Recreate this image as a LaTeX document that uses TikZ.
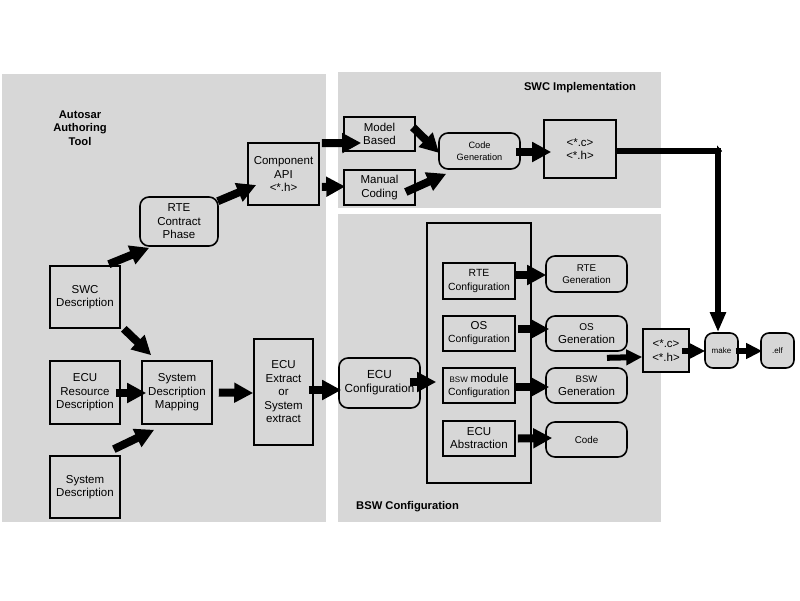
\documentclass[tikz,border=0pt]{standalone}
\usepackage{fontspec}
\setmainfont{Liberation Sans}
\usetikzlibrary{arrows.meta,calc}
\definecolor{panel}{RGB}{215,215,215}
\tikzset{
  panelbg/.style={fill=panel, draw=none},
  box/.style={draw=black, line width=1.6pt, fill=panel, inner sep=0pt, align=center,
    font=\fontsize{11.5}{13.5}\selectfont},
  rbox/.style={box, rounded corners=9pt},
  title/.style={font=\bfseries\fontsize{11.2}{13.7}\selectfont, align=center, inner sep=0pt},
  bigarrow/.style={line width=8pt, -{Triangle[length=19pt,width=19pt]}},
  midarrow/.style={line width=6pt, -{Triangle[length=16pt,width=15pt]}},
}
\begin{document}
\begin{tikzpicture}[x=1pt,y=-1pt]
\useasboundingbox (0,0) rectangle (800,600);
% panels
\fill[panelbg] (2,74) rectangle (326,522);
\fill[panelbg] (338,72) rectangle (661,208);
\fill[panelbg] (338,214) rectangle (661,522);
% titles
\node[title] (tAuth) at (80,128) {Autosar\\Authoring\\Tool};
\node[title] (tSWC) at (580,88) {SWC Implementation};
\node[title, anchor=west] (tBSW) at (356,507) {BSW Configuration};
% left nodes
\node[rbox, minimum width=78, minimum height=49] (rte) at (179,221.5) {RTE\\Contract\\Phase};
\node[box, minimum width=71, minimum height=62] (api) at (283.5,174) {Component\\API\\<*.h>};
\node[box, minimum width=70, minimum height=62] (swc) at (85,297) {SWC\\Description};
\node[box, minimum width=70, minimum height=63] (ecur) at (85,392.5) {ECU\\Resource\\Description};
\node[box, minimum width=70, minimum height=63] (sdm) at (177,392.5) {System\\Description\\Mapping};
\node[box, minimum width=70, minimum height=62] (sysd) at (85,487) {System\\Description};
\node[box, minimum width=59, minimum height=106] (ext) at (283.5,392) {ECU\\Extract\\or\\System\\extract};
% SWC implementation
\node[box, minimum width=71, minimum height=34] (model) at (379.5,134) {Model\\Based};
\node[box, minimum width=71, minimum height=35] (manual) at (379.5,187.5) {Manual\\Coding};
\node[rbox, minimum width=81, minimum height=36, font=\fontsize{9.2}{12}\selectfont] (codegen) at (479.5,151) {Code\\Generation};
\node[box, minimum width=72, minimum height=58] (ch1) at (580,149) {<*.c>\\<*.h>};
% BSW configuration
\node[draw=black, line width=1.6pt, minimum width=104, minimum height=260, inner sep=0pt] (frame) at (479,353) {};
\node[box, minimum width=72, minimum height=36, font=\fontsize{10.4}{14}\selectfont] (rtec) at (479,281) {RTE\\Configuration};
\node[box, minimum width=72, minimum height=35, font=\fontsize{10.4}{13}\selectfont] (osc) at (479,333.5) {{\fontsize{11.5}{13}\selectfont OS}\\Configuration};
\node[box, minimum width=72, minimum height=35, font=\fontsize{10.4}{13}\selectfont] (bswc) at (479,385.5) {{\fontsize{8}{13}\selectfont BSW} {\fontsize{11.5}{13}\selectfont module}\\Configuration};
\node[box, minimum width=72, minimum height=35, font=\fontsize{11.5}{13}\selectfont] (ecua) at (479,438.5) {ECU\\Abstraction};
\node[rbox, minimum width=81, minimum height=36, font=\fontsize{9.8}{12}\selectfont] (rteg) at (586.5,274) {RTE\\Generation};
\node[rbox, minimum width=81, minimum height=35, font=\fontsize{11.5}{13}\selectfont] (osg) at (586.5,333.5) {{\fontsize{10}{13}\selectfont OS}\\Generation};
\node[rbox, minimum width=81, minimum height=35, font=\fontsize{11.5}{13}\selectfont] (bswg) at (586.5,385.5) {{\fontsize{9.5}{13}\selectfont BSW}\\Generation};
\node[rbox, minimum width=81, minimum height=35, font=\fontsize{9.8}{12}\selectfont] (code) at (586.5,439.5) {Code};
\node[rbox, minimum width=81, minimum height=50, font=\fontsize{11.7}{14}\selectfont] (ecuconf) at (379.5,383) {ECU\\Configuration};
% right
\node[box, minimum width=46, minimum height=43] (ch2) at (666,350.5) {<*.c>\\<*.h>};
\node[rbox, minimum width=33, minimum height=35, rounded corners=8pt, font=\fontsize{8}{10}\selectfont] (make) at (721.5,350.5) {make};
\node[rbox, minimum width=33, minimum height=35, rounded corners=8pt, font=\fontsize{8}{10}\selectfont] (elf) at (777.5,350.5) {.elf};
\coordinate (corner) at (718,151);
% arrows
\draw[bigarrow] ($(swc.north east)+(-12,-1)$) -- ($(rte.south west)+(10,1)$);
\draw[bigarrow] ($(rte.north east)+(-1,5)$) -- ($(api.west)+(9,11)$);
\draw[bigarrow] ($(api.north east)+(2,1)$) -- ($(model.west)+(18,9)$);
\draw[bigarrow] ($(api.south east)+(2,-19)$) -- ($(manual.west)+(2,-1)$);
\draw[bigarrow] ($(model.north east)+(-3,11)$) -- ($(codegen.west)+(1,2)$);
\draw[bigarrow] ($(manual.east)+(-10,4.5)$) -- ($(codegen.south west)+(8,4)$);
\draw[bigarrow] ($(codegen.east)+(-5,1)$) -- ($(ch1.west)+(8,3)$);
\draw[line width=6pt, -{Triangle[length=5pt,width=11pt]}] ($(ch1.east)+(0,2)$) -- ($(corner)+(4,0)$);
\draw[line width=6pt, -{Triangle[length=20pt,width=15pt]}] ($(corner)+(0,-3)$) -- ($(make.north)+(-3.5,0)$);
\draw[bigarrow] ($(swc.south east)+(3,0)$) -- ($(sdm.north west)+(10,-5)$);
\draw[bigarrow] ($(ecur.east)+(-5,0.5)$) -- ($(sdm.west)+(5,0.5)$);
\draw[bigarrow] ($(sysd.north east)+(-7,-6)$) -- ($(sdm.south west)+(13,5)$);
\draw[bigarrow] ($(sdm.east)+(6,0)$) -- ($(ext.west)+(0,1)$);
\draw[bigarrow] ($(ext.east)+(-5,-2)$) -- ($(ecuconf.west)+(3,7)$);
\draw[bigarrow] ($(ecuconf.east)+(-11,-1)$) -- ($(bswc.west)+(-6,-3.5)$);
\draw[bigarrow] ($(rtec.east)+(0,-6)$) -- ($(rteg.west)+(1,1)$);
\draw[bigarrow] ($(osc.east)+(2,-4.5)$) -- ($(osg.west)+(4,-4.5)$);
\draw[bigarrow] ($(bswc.east)+(0,1.5)$) -- ($(bswg.west)+(4,1.5)$);
\draw[bigarrow] ($(ecua.east)+(2,0)$) -- ($(code.west)+(7,-1.5)$);
\draw[midarrow] ($(osg.south)+(20.5,6)$) -- ($(ch2.west)+(0,6.5)$);
\draw[midarrow] ($(ch2.east)+(-8,0.5)$) -- ($(make.west)+(1,0.5)$);
\draw[midarrow] ($(make.east)+(-3,0.5)$) -- ($(elf.west)+(2,0.5)$);
\end{tikzpicture}
\end{document}
